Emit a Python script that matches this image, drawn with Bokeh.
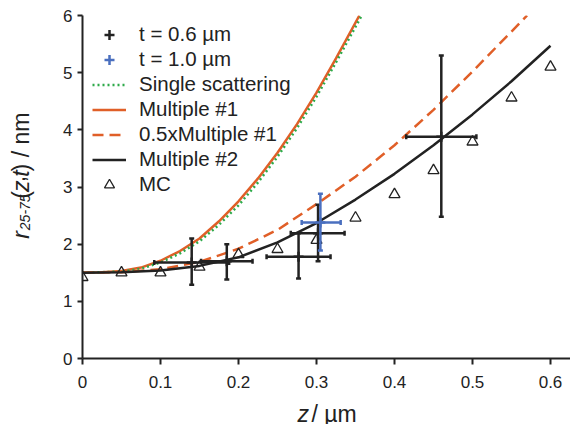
import math
from bokeh.plotting import figure
from bokeh.layouts import row, column
from bokeh.models import (ColumnDataSource, Whisker, TeeHead, Legend,
                          LegendItem, FixedTicker, Range1d)
from bokeh.core.properties import value
from bokeh.embed import file_html
from bokeh.resources import INLINE

# ---------------- data ----------------
x_ticks = [0, 0.1, 0.2, 0.3, 0.4, 0.5, 0.6]
x_tick_labels = ["0", "0.1", "0.2", "0.3", "0.4", "0.5", "0.6"]
y_ticks = [0, 1, 2, 3, 4, 5, 6]

# t = 0.6 um measurements (black crosses)
t06_z = [0.14, 0.185, 0.277, 0.302, 0.46]
t06_r = [1.68, 1.70, 1.78, 2.19, 3.88]
t06_r_lo = [1.29, 1.38, 1.40, 1.70, 2.48]
t06_r_hi = [2.10, 2.00, 2.19, 2.69, 5.30]
t06_z_lo = [0.092, 0.152, 0.236, 0.267, 0.415]
t06_z_hi = [0.188, 0.218, 0.318, 0.336, 0.505]

# t = 1.0 um measurement (blue cross)
t10_z = [0.305]
t10_r = [2.38]
t10_r_lo = [1.89]
t10_r_hi = [2.88]
t10_z_lo = [0.281]
t10_z_hi = [0.331]

# Single scattering (green dotted)
ss_z = [0, 0.05, 0.075, 0.1, 0.125, 0.15, 0.175, 0.2, 0.225, 0.25, 0.275, 0.3, 0.325, 0.358]
ss_r = [1.50, 1.52, 1.57, 1.68, 1.84, 2.05, 2.34, 2.68, 3.08, 3.53, 4.03, 4.58, 5.18, 6.0]

# Multiple #1 (orange solid)
m1_z = [0, 0.025, 0.05, 0.075, 0.1, 0.125, 0.15, 0.175, 0.2, 0.225, 0.25, 0.275, 0.3, 0.325, 0.355]
m1_r = [1.50, 1.51, 1.53, 1.59, 1.71, 1.88, 2.10, 2.40, 2.75, 3.15, 3.60, 4.10, 4.65, 5.25, 6.0]

# 0.5 x Multiple #1 (orange dashed)
mh_z = [0, 0.05, 0.1, 0.15, 0.2, 0.25, 0.3, 0.35, 0.4, 0.45, 0.5, 0.55, 0.57]
mh_r = [1.50, 1.51, 1.56, 1.69, 1.92, 2.25, 2.70, 3.18, 3.73, 4.35, 5.02, 5.72, 6.0]

# Multiple #2 (black solid)
m2_z = [0, 0.05, 0.1, 0.15, 0.2, 0.25, 0.3, 0.35, 0.4, 0.45, 0.5, 0.55, 0.6]
m2_r = [1.50, 1.51, 1.54, 1.62, 1.77, 2.03, 2.37, 2.78, 3.23, 3.73, 4.27, 4.85, 5.47]

# Monte Carlo (triangles)
mc_z = [0, 0.05, 0.1, 0.15, 0.2, 0.25, 0.3, 0.35, 0.4, 0.45, 0.5, 0.55, 0.6]
mc_r = [1.42, 1.50, 1.50, 1.60, 1.82, 1.91, 2.07, 2.46, 2.87, 3.29, 3.79, 4.56, 5.10]

# axis-title pieces (rich text: italics and subscript)
ylab_text = ["r", "25-75", "(", "z", ",", "t", ") / nm"]
ylab_style = ["italic", "italic", "normal", "italic", "normal", "italic", "normal"]
xlab_text = ["z", " / µm"]
xlab_style = ["italic", "normal"]

# ---------------- style ----------------
FONT = "Liberation Sans"
INK = "#222222"
ORANGE = "#e05f28"
GREEN = "#2eaa4a"
BLUE = "#4a6fbf"

W, H = 570, 424
YW = 48            # width of the y-title strip
MAIN_H = 396       # height of the main figure
FRAME_TOP, FRAME_BOTTOM = 15, 358

p = figure(width=W - YW, height=MAIN_H, output_backend="svg", toolbar_location=None,
           x_range=Range1d(0, (W - 82) / 780.0), y_range=Range1d(0, 6),
           min_border_left=82 - YW, min_border_right=0, min_border_top=FRAME_TOP,
           min_border_bottom=MAIN_H - FRAME_BOTTOM)
p.outline_line_color = None
p.grid.visible = False

for ax in (p.xaxis[0], p.yaxis[0]):
    ax.axis_line_color = INK
    ax.axis_line_width = 2
    ax.major_tick_line_color = INK
    ax.major_tick_line_width = 2
    ax.major_tick_in = 0
    ax.minor_tick_line_color = None
    ax.major_label_text_font = FONT
    ax.major_label_text_font_size = "17px"
    ax.major_label_text_color = INK
    ax.axis_label = None

p.xaxis[0].ticker = FixedTicker(ticks=x_ticks)
p.xaxis[0].major_label_overrides = {t: l for t, l in zip(x_ticks, x_tick_labels)}
p.xaxis[0].major_tick_out = 6
p.xaxis[0].major_label_standoff = 11
p.yaxis[0].ticker = FixedTicker(ticks=y_ticks)
p.yaxis[0].major_tick_out = 5
p.yaxis[0].major_label_standoff = 5

# ---------------- curves ----------------
r_m1 = p.line(m1_z, m1_r, line_color=ORANGE, line_width=2.5)
r_ss = p.line(ss_z, ss_r, line_color=GREEN, line_width=2.5, line_dash="2 3")
r_mh = p.line(mh_z, mh_r, line_color=ORANGE, line_width=2.5, line_dash="11 6")
r_m2 = p.line(m2_z, m2_r, line_color=INK, line_width=2.5)

# ---------------- error bars ----------------
def add_errorbars(z, r, rlo, rhi, zlo, zhi, color):
    src = ColumnDataSource(dict(z=z, r=r, rlo=rlo, rhi=rhi, zlo=zlo, zhi=zhi))
    def head():
        return TeeHead(size=5, line_color=color, line_width=2.5)
    p.add_layout(Whisker(source=src, base="z", lower="rlo", upper="rhi",
                         dimension="height", line_color=color, line_width=2.5,
                         lower_head=head(), upper_head=head(), level="glyph"))
    p.add_layout(Whisker(source=src, base="r", lower="zlo", upper="zhi",
                         dimension="width", line_color=color, line_width=2.5,
                         lower_head=head(), upper_head=head(), level="glyph"))
    # centre crosses (hidden under the bars, used for the legend glyph)
    return p.scatter("z", "r", source=src, marker="cross", size=10,
                     line_color=color, line_width=2.5)

leg06 = add_errorbars(t06_z, t06_r, t06_r_lo, t06_r_hi, t06_z_lo, t06_z_hi, INK)
leg10 = add_errorbars(t10_z, t10_r, t10_r_lo, t10_r_hi, t10_z_lo, t10_z_hi, BLUE)

# MC triangles
r_mc = p.scatter(mc_z, mc_r, marker="triangle", size=11, line_color=INK,
                 line_width=1.3, fill_alpha=0)

legend = Legend(items=[
    LegendItem(label="t = 0.6 µm", renderers=[leg06]),
    LegendItem(label="t = 1.0 µm", renderers=[leg10]),
    LegendItem(label="Single scattering", renderers=[r_ss]),
    LegendItem(label="Multiple #1", renderers=[r_m1]),
    LegendItem(label="0.5xMultiple #1", renderers=[r_mh]),
    LegendItem(label="Multiple #2", renderers=[r_m2]),
    LegendItem(label="MC", renderers=[r_mc]),
], location=(10, 161.5), padding=5, margin=0, spacing=0,
   glyph_width=34, glyph_height=25, label_height=25, label_standoff=13,
   border_line_color=None, background_fill_alpha=0,
   label_text_font=FONT, label_text_font_size="20.5px", label_text_color=INK)
p.add_layout(legend, "center")

# ---------------- y title strip (pixel coordinates, y measured up from the x axis) ----------------
yfig = figure(width=YW, height=FRAME_BOTTOM, output_backend="svg", toolbar_location=None,
              x_range=Range1d(0, YW), y_range=Range1d(0, FRAME_BOTTOM),
              x_axis_type=None, y_axis_type=None, min_border=0)
yfig.outline_line_color = None
yfig.grid.visible = False
ysrc = ColumnDataSource(dict(
    x=[7.5, 19.6, 7.5, 7.5, 7.5, 7.5, 7.5],
    y=[96, 106, 143, 150.7, 162.2, 168.6, 175],
    text=ylab_text, style=ylab_style,
    size=["23px", "14px", "23px", "23px", "23px", "23px", "23px"]))
yfig.text(x="x", y="y", text="text", source=ysrc, angle=math.pi / 2,
          text_font=value(FONT), text_font_size="size", text_font_style="style",
          text_color=INK, text_baseline="top", text_align="left")

# ---------------- x title strip ----------------
XH = H - MAIN_H
xfig = figure(width=W, height=XH, output_backend="svg", toolbar_location=None,
              x_range=Range1d(0, W), y_range=Range1d(0, XH),
              x_axis_type=None, y_axis_type=None, min_border=0)
xfig.outline_line_color = None
xfig.grid.visible = False
xsrc = ColumnDataSource(dict(x=[297, 311], y=[11, 11], text=xlab_text, style=xlab_style))
xfig.text(x="x", y="y", text="text", source=xsrc,
          text_font=value(FONT), text_font_size="23px", text_font_style="style",
          text_color=INK, text_baseline="alphabetic", text_align="left")

layout = column(row(yfig, p), xfig)
open("out.html", "w").write(file_html(layout, INLINE))
